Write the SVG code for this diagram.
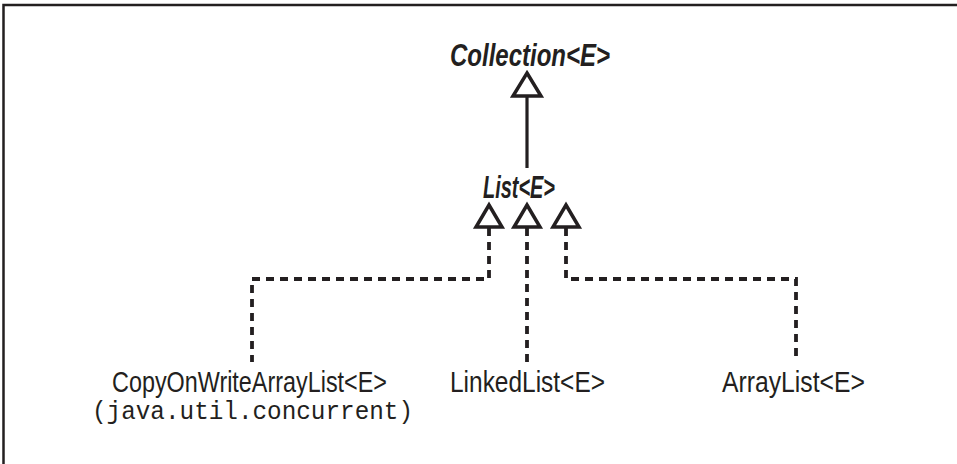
<svg xmlns="http://www.w3.org/2000/svg" width="957" height="464" viewBox="0 0 957 464">
<defs>
<style>
.lbl{font-family:"Liberation Sans",Arial,sans-serif;font-size:29px;fill:#231f20;text-anchor:start}
.it{font-style:italic;font-weight:bold;font-size:31px}
.mono{font-family:"Liberation Mono","DejaVu Sans Mono",monospace;font-size:25px;fill:#231f20}
.solid{stroke:#231f20;stroke-width:3.2;fill:none}
.dash{stroke:#231f20;stroke-width:3.8;fill:none;stroke-dasharray:8 6}
.tri{stroke:#231f20;stroke-width:3.5;fill:#fff;stroke-linejoin:miter}
</style>
</defs>
<rect width="957" height="464" fill="#fff"/>
<path d="M3.5 464 V5 H957" fill="none" stroke="#231f20" stroke-width="2.5"/>
<g id="connectors">
<line class="solid" x1="527" y1="96" x2="527" y2="168"/>
<polyline class="dash" points="489,228 489,279 252,279 252,362"/>
<line class="dash" x1="527" y1="228" x2="527" y2="362"/>
<polyline class="dash" points="566,228 566,279 796,279 796,362"/>
<polygon class="tri" points="527,73 541,96 513,96"/>
<polygon class="tri" points="489,205 502,227 476,227"/>
<polygon class="tri" points="527,205 540,227 514,227"/>
<polygon class="tri" points="566,205 579,227 553,227"/>
</g>
<g id="collection"><text class="lbl it" x="450" y="66" textLength="160" lengthAdjust="spacingAndGlyphs">Collection&lt;E&gt;</text></g>
<g id="list"><text class="lbl it" x="483" y="198" textLength="72" lengthAdjust="spacingAndGlyphs">List&lt;E&gt;</text></g>
<g id="copyonwrite">
<text class="lbl" x="112" y="392" textLength="275" lengthAdjust="spacingAndGlyphs">CopyOnWriteArrayList&lt;E&gt;</text>
<text class="mono" x="92" y="419" textLength="321" lengthAdjust="spacingAndGlyphs">(java.util.concurrent)</text>
</g>
<g id="linkedlist"><text class="lbl" x="450" y="392" textLength="155" lengthAdjust="spacingAndGlyphs">LinkedList&lt;E&gt;</text></g>
<g id="arraylist"><text class="lbl" x="722" y="392" textLength="143" lengthAdjust="spacingAndGlyphs">ArrayList&lt;E&gt;</text></g>
</svg>
